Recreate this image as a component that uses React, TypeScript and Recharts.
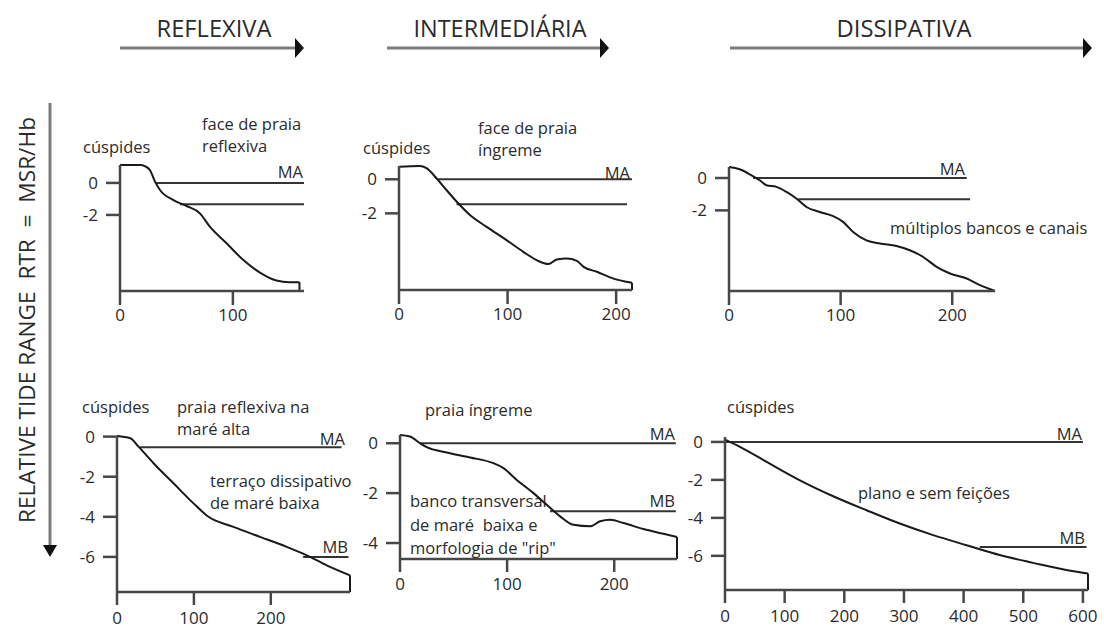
import { LineChart, Line, XAxis, YAxis } from 'recharts'

const INK = '#2b2b2b'
const AXIS = '#474747'
const ARROW = '#7d7d7d'
const FONT = '"Open Sans", sans-serif'

// beach profiles: distance (m) and elevation (m)
const reflexADist = [0, 18, 22, 26.5, 31, 35.4, 47, 59, 70.8, 79.6, 94.4, 109, 124, 138.6, 150, 159]
const reflexADepth = [1.12, 1.12, 1.05, 0.81, 0.08, -0.44, -1.06, -1.44, -1.9, -2.73, -3.77, -4.8, -5.6, -6.1, -6.2, -6.2]
const reflexARange = [-6.75, 1.12]
const reflexALevels = [[31, 163, 0], [53, 163, -1.33]] // from, to, elevation

const interADist = [0, 19, 25.3, 34.5, 43.7, 54.5, 65.3, 80.7, 99, 114.5, 126.8, 137.6, 145.3, 154.6, 163.8, 170, 182.3, 197.6, 214.6]
const interADepth = [0.74, 0.78, 0.65, 0.06, -0.63, -1.41, -2.1, -2.79, -3.57, -4.26, -4.75, -4.98, -4.71, -4.65, -4.79, -5.14, -5.43, -5.83, -6.08]
const interARange = [-6.5, 0.78]
const interALevels = [[36, 214.6, 0], [53, 210, -1.47]]

const dissADist = [0, 9.6, 18.6, 27.5, 33.5, 42.5, 51.5, 60.4, 69.4, 81.3, 93.3, 102.2, 111.2, 123.2, 135.2, 150.1, 162, 174, 186, 198, 212.9, 224.8, 238.3]
const dissADepth = [0.68, 0.54, 0.23, -0.14, -0.45, -0.55, -0.86, -1.27, -1.79, -2.1, -2.36, -2.71, -3.33, -3.85, -4.05, -4.2, -4.46, -4.88, -5.49, -5.9, -6.21, -6.62, -6.98]
const dissARange = [-6.98, 0.68]
const dissALevels = [[21.5, 213, 0], [62, 216, -1.31]]

const reflexBDist = [0, 17.3, 28, 47.5, 73.5, 99.5, 119, 151.4, 186, 220.8, 246.8, 272.7, 303]
const reflexBDepth = [0.03, -0.08, -0.5, -1.33, -2.33, -3.33, -4, -4.5, -5, -5.5, -5.92, -6.42, -6.92]
const reflexBRange = [-7.75, 0.03]
const reflexBLevels = [[30, 292, -0.53], [242, 301, -6.0]]

const interBDist = [0, 9.3, 18.7, 25, 43.6, 65.4, 87.2, 96.6, 109, 124.6, 137, 149.5, 162, 177.6, 186.9, 196.3, 208.7, 227.4, 246, 258.6]
const interBDepth = [0.33, 0.27, 0, -0.16, -0.37, -0.57, -0.8, -1.0, -1.47, -2.0, -2.47, -2.93, -3.27, -3.33, -3.13, -3.07, -3.2, -3.44, -3.63, -3.76]
const interBRange = [-4.64, 0.33]
const interBLevels = [[18.7, 257.5, 0], [140, 257.5, -2.73]]

const dissBDist = [0, 25, 69.8, 125.6, 181.4, 237.3, 293, 349, 404.8, 460.6, 516.4, 572.3, 608.5]
const dissBDepth = [0.12, -0.26, -1.05, -2.02, -2.86, -3.6, -4.3, -4.91, -5.44, -5.96, -6.37, -6.75, -6.93]
const dissBRange = [-7.8, 0.26]
const dissBLevels = [[0, 600, 0], [427, 606, -5.53]]

const xTicks100 = [0, 100]
const xTicks200 = [0, 100, 200]
const xTicks600 = [0, 100, 200, 300, 400, 500, 600]
const yTicksTop = [0, -2]
const yTicks4 = [0, -2, -4]
const yTicks6 = [0, -2, -4, -6]

const headings = ['REFLEXIVA', 'INTERMEDIÁRIA', 'DISSIPATIVA']
const sideTitle = 'RELATIVE TIDE RANGE  RTR  =  MSR/Hb'

const YW = 50
const XH = 40
const MT = 16
const MR = 24

type Rect = { left: number; top: number; right: number; bottom: number }

function Profile(props: {
  dist: number[]
  depth: number[]
  range: number[]
  levels: number[][]
  xTicks: number[]
  yTicks: number[]
  rect: Rect
  xTick: [number, number]
}) {
  const { dist, depth, range, levels, xTicks, yTicks, rect, xTick } = props
  const profile = dist.map((x, i) => ({ x, y: depth[i] }))
  const last = profile[profile.length - 1]
  const closing = [last, { x: last.x, y: range[0] }]
  const xMax = Math.max(last.x, ...levels.map((l) => l[1]))
  const w = YW + rect.right - rect.left + MR
  const h = MT + rect.bottom - rect.top + XH
  const tickStyle = { fill: INK, fontSize: 17, fontFamily: FONT }

  return (
    <div style={{ position: 'absolute', left: rect.left - YW, top: rect.top - MT }}>
      <LineChart width={w} height={h} margin={{ top: MT, right: MR, left: 0, bottom: 0 }}>
        <XAxis
          type="number"
          dataKey="x"
          domain={[0, xMax]}
          ticks={xTicks}
          interval={0}
          height={XH}
          tickSize={xTick[0]}
          tickMargin={xTick[1]}
          axisLine={{ stroke: AXIS, strokeWidth: 2.5 }}
          tickLine={{ stroke: AXIS, strokeWidth: 2.5 }}
          tick={tickStyle}
        />
        <YAxis
          type="number"
          domain={range}
          ticks={yTicks}
          interval={0}
          width={YW}
          tickSize={14}
          tickMargin={8}
          axisLine={{ stroke: AXIS, strokeWidth: 2.5 }}
          tickLine={{ stroke: AXIS, strokeWidth: 2.5 }}
          tick={tickStyle}
        />
        {levels.map(([a, b, v], i) => (
          <Line
            key={i}
            name={`level${i}`}
            data={[{ x: a, y: v }, { x: b, y: v }]}
            dataKey="y"
            type="linear"
            stroke="#333"
            strokeWidth={2}
            dot={false}
            isAnimationActive={false}
          />
        ))}
        <Line name="profile" data={profile} dataKey="y" type="monotone" stroke="#1a1a1a" strokeWidth={2} dot={false} isAnimationActive={false} />
        <Line name="end" data={closing} dataKey="y" type="linear" stroke="#1a1a1a" strokeWidth={2} dot={false} isAnimationActive={false} />
      </LineChart>
    </div>
  )
}

const notes: [string, number, number, 'start' | 'end'][] = [
  ['cúspides', 83, 146, 'start'],
  ['face de praia', 202, 123, 'start'],
  ['reflexiva', 202, 145, 'start'],
  ['MA', 303, 171, 'end'],
  ['cúspides', 363, 147, 'start'],
  ['face de praia', 478, 127, 'start'],
  ['íngreme', 478, 149, 'start'],
  ['MA', 630, 172, 'end'],
  ['MA', 965, 168, 'end'],
  ['múltiplos bancos e canais', 890, 227, 'start'],
  ['cúspides', 82, 406, 'start'],
  ['praia reflexiva na', 177, 406, 'start'],
  ['maré alta', 177, 428, 'start'],
  ['MA', 345, 438, 'end'],
  ['terraço dissipativo', 210, 480, 'start'],
  ['de maré baixa', 210, 502, 'start'],
  ['MB', 348, 546, 'end'],
  ['praia íngreme', 425, 409, 'start'],
  ['MA', 675, 433, 'end'],
  ['MB', 675, 500, 'end'],
  ['banco transversal', 410, 500, 'start'],
  ['de maré  baixa e', 410, 524, 'start'],
  ['morfologia de "rip"', 410, 547, 'start'],
  ['cúspides', 727, 406, 'start'],
  ['MA', 1082, 433, 'end'],
  ['plano e sem feições', 858, 492, 'start'],
  ['MB', 1085, 537, 'end'],
]

const headingLayout = [
  { cx: 214, len: 115, x1: 120, x2: 304 },
  { cx: 500, len: 173, x1: 387, x2: 609 },
  { cx: 904, len: 135, x1: 730, x2: 1092 },
]

export default function App() {
  return (
    <div style={{ position: 'absolute', left: 0, top: 0, width: 1104, height: 628, background: '#fff', overflow: 'hidden' }}>
      <svg width={1104} height={628} style={{ position: 'absolute', left: 0, top: 0 }}>
        {headings.map((t, i) => {
          const g = headingLayout[i]
          return (
            <g key={t}>
              <text x={g.cx} y={28} textAnchor="middle" dominantBaseline="central" fontFamily={FONT} fontSize={23} fill={INK} textLength={g.len} lengthAdjust="spacingAndGlyphs">
                {t}
              </text>
              <line x1={g.x1} y1={48} x2={g.x2 - 8} y2={48} stroke={ARROW} strokeWidth={3} />
              <polygon points={`${g.x2 - 9},${38} ${g.x2},${48} ${g.x2 - 9},${58}`} fill="#111" />
            </g>
          )
        })}
        <text
          transform="translate(26,320) rotate(-90)"
          textAnchor="middle"
          dominantBaseline="central"
          fontFamily={FONT}
          fontSize={22}
          fill={INK}
          textLength={406}
          lengthAdjust="spacingAndGlyphs"
          style={{ whiteSpace: 'pre' }}
        >
          {sideTitle}
        </text>
        <line x1={50} y1={103} x2={50} y2={547} stroke={ARROW} strokeWidth={3} />
        <polygon points="43,545 57,545 50,557" fill="#111" />
        {notes.map(([t, x, y, a], i) => (
          <text key={i} x={x} y={y} textAnchor={a} dominantBaseline="central" fontFamily={FONT} fontSize={16.5} fill={INK} style={{ whiteSpace: 'pre' }}>
            {t}
          </text>
        ))}
      </svg>
      <Profile dist={reflexADist} depth={reflexADepth} range={reflexARange} levels={reflexALevels} xTicks={xTicks100} yTicks={yTicksTop} rect={{ left: 120, top: 165, right: 304, bottom: 291 }} xTick={[14, 4]} />
      <Profile dist={interADist} depth={interADepth} range={interARange} levels={interALevels} xTicks={xTicks200} yTicks={yTicksTop} rect={{ left: 399, top: 166, right: 632, bottom: 290 }} xTick={[14, 4]} />
      <Profile dist={dissADist} depth={dissADepth} range={dissARange} levels={dissALevels} xTicks={xTicks200} yTicks={yTicksTop} rect={{ left: 729, top: 167, right: 995, bottom: 291 }} xTick={[14, 4]} />
      <Profile dist={reflexBDist} depth={reflexBDepth} range={reflexBRange} levels={reflexBLevels} xTicks={xTicks200} yTicks={yTicks6} rect={{ left: 117, top: 436, right: 350, bottom: 592 }} xTick={[13, 7]} />
      <Profile dist={interBDist} depth={interBDepth} range={interBRange} levels={interBLevels} xTicks={xTicks200} yTicks={yTicks4} rect={{ left: 400, top: 435, right: 677, bottom: 559 }} xTick={[13, 6]} />
      <Profile dist={dissBDist} depth={dissBDepth} range={dissBRange} levels={dissBLevels} xTicks={xTicks600} yTicks={yTicks6} rect={{ left: 725, top: 437, right: 1088, bottom: 590 }} xTick={[13, 7]} />
    </div>
  )
}
